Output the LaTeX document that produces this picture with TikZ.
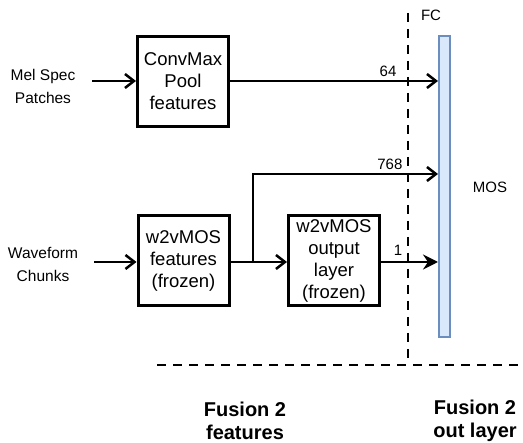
\documentclass[tikz,border=0pt]{standalone}
\usepackage{fontspec}
\setmainfont{Liberation Sans}
\usepackage{xcolor}
\usetikzlibrary{arrows.meta,positioning}
\definecolor{barfill}{HTML}{DAE8FC}
\definecolor{barline}{HTML}{6C8EBF}
\tikzset{
  ar/.style={-{Straight Barb[length=9pt,width=14pt,line width=2.5pt]},line width=2.5pt},
  arf/.style={-{Stealth[length=15pt,width=15pt,inset=5pt]},line width=2.5pt},
  box/.style={draw,line width=3pt,minimum width=91pt,minimum height=90pt,align=center,inner sep=0pt,
    font=\fontsize{18.5}{22}\selectfont},
  side/.style={align=center,font=\fontsize{15.5}{23}\selectfont},
  lbl/.style={font=\fontsize{15}{18}\selectfont,inner sep=0pt},
  sect/.style={align=center,font=\fontsize{20}{22.5}\selectfont\bfseries},
  sep/.style={line width=2.8pt,dash pattern=on 9pt off 7pt}
}
\begin{document}
\begin{tikzpicture}[x=1pt,y=-1pt]
\useasboundingbox (0,0) rectangle (523,443);
% inputs
\node[side] (mel) at (43,86) {Mel Spec\\Patches};
\node[side] (wav) at (43,264) {Waveform\\Chunks};
\coordinate (melin) at (92,81);
\coordinate (wavin) at (94,262);
% blocks
\node[box] (conv) at (183,81.5) {ConvMax\\Pool\\features};
\node[box] (w2v) at (183.5,261) {w2vMOS\\features\\(frozen)};
\node[box] (outl) at (334,261) {w2vMOS\\output\\layer\\(frozen)};
% FC layer
\node[draw=barline,fill=barfill,line width=2pt,minimum width=11pt,minimum height=301pt,inner sep=0pt] (fc) at (444.5,186.5) {};
\node[lbl] (fctxt) at (431,15) {FC};
\node[lbl] (mos) at (490,187) {MOS};
% separators
\draw[sep] (408,13) -- (408,365);
\draw[sep] (157,365) -- (523,365);
\node[sect] (sfeat) at (245,421) {Fusion 2\\features};
\node[sect] (sout) at (475,421) {Fusion 2\\out layer};
% connectors
\coordinate (br) at (253,262);
\coordinate (brup) at (253,174);
\draw[ar] (melin) -- (melin -| conv.west);
\draw[ar] (wavin) -- (wavin -| w2v.west);
\draw[ar] (conv.east |- melin) -- (melin -| fc.west) node[lbl,pos=0.76,above=3pt] {64};
\draw[line width=2.5pt] (w2v.east |- br) -- (br);
\draw[ar] (br) -- (br -| outl.west);
\draw[ar] (br) -- (brup) -- (brup -| fc.west) node[lbl,pos=0.74,above=3pt] {768};
\draw[arf] (outl.east |- br) -- (br -| fc.west) node[lbl,pos=0.3,above=5pt] {1};
\end{tikzpicture}
\end{document}
